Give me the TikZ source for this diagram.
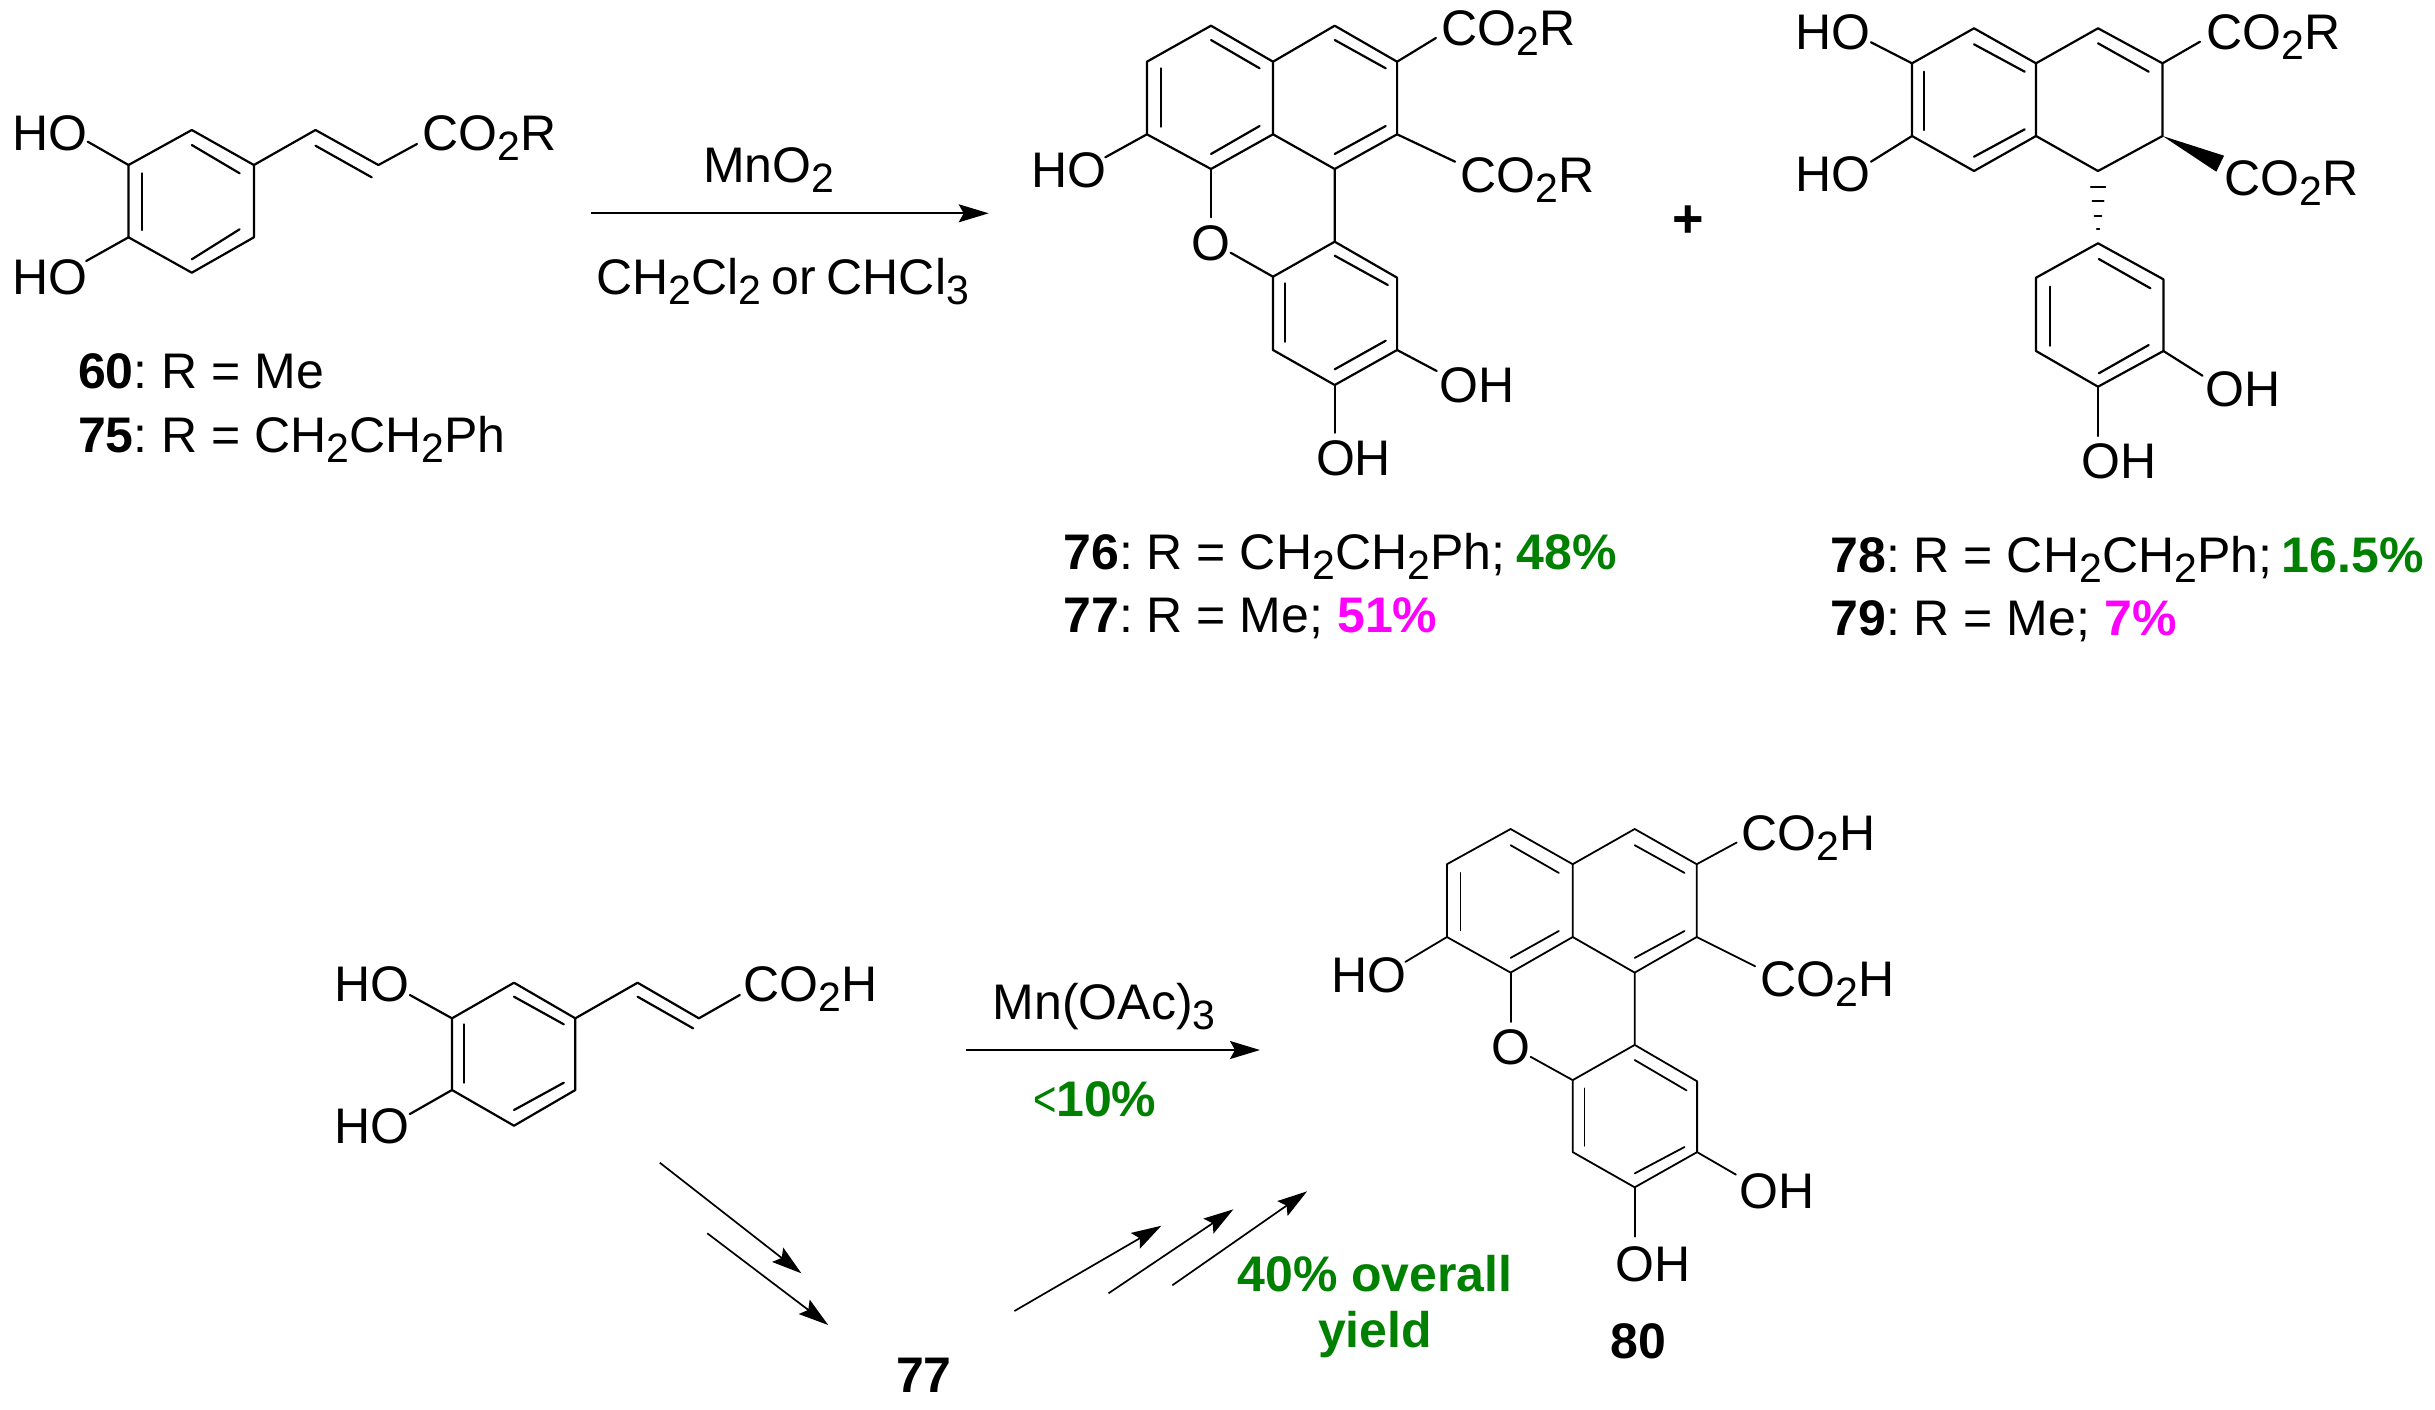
\documentclass[tikz,border=0pt]{standalone}
\usepackage{graphicx}
\usepackage{fontspec}
\setmainfont{Liberation Sans}
\usetikzlibrary{arrows.meta}
\definecolor{yieldgreen}{RGB}{0,128,0}
\definecolor{yieldpink}{RGB}{255,0,255}
\newcommand{\subs}[1]{\raisebox{-.2em}{\scalebox{.82}{#1}}}
\tikzset{
    bond/.style={line width=1.1pt, line cap=round, line join=round},
    thinbond/.style={line width=.9pt, line cap=round, line join=round},
    rxnarrow/.style={line width=.85pt, -{Stealth[length=15pt,width=9pt,inset=2.5pt]}},
    lbl/.style={anchor=base west, inner sep=0pt, outer sep=0pt, font=\fontsize{25}{29}\selectfont\frenchspacing},
}
\begin{document}
\begin{tikzpicture}[x=.5pt,y=-.5pt]
\useasboundingbox (0,0) rectangle (2435,1409);

% ester 60/75
\foreach \n/\x/\y in {a1/128.5/165, a2/191.8/130, a3/253.9/165, a4/253.9/237.3, a5/191.8/272.7, a6/128.5/237.3,
    av1/315.5/130, av2/378.4/165, ae1/417/144, ae2/87.8/141.7, ae3/86.2/261,
    ai1/191.8/145, ai2/239.6/173.3, ai3/141.6/173.3, ai4/141.6/230, ai5/191.8/259.3, ai6/239.6/229.3,
    ai7/315.5/145.7, ai8/371.7/177.3}
    \coordinate (\n) at (\x,\y);
\draw[bond] (a1) -- (a2) -- (a3) -- (a4) -- (a5) -- (a6) -- cycle;
\draw[bond] (a3) -- (av1) -- (av2) -- (ae1);
\draw[bond] (a1) -- (ae2);
\draw[bond] (a6) -- (ae3);
\draw[bond] (ai1) -- (ai2);
\draw[bond] (ai3) -- (ai4);
\draw[bond] (ai5) -- (ai6);
\draw[bond] (ai7) -- (ai8);
\node[lbl] (aho1) at (12,150) {HO};
\node[lbl] (aho2) at (12,294.3) {HO};
\node[lbl] (aco) at (422.5,150) {CO\subs{2}R};
\node[lbl] (cap60) at (78,388.3) {\textbf{60}: R = Me};
\node[lbl] (cap75) at (78,452.3) {\textbf{75}: R = CH\subs{2}CH\subs{2}Ph};

% first arrow
\coordinate (r1a) at (591,213.3);
\coordinate (r1b) at (988.7,213.3);
\draw[rxnarrow] (r1a) -- (r1b);
\node[lbl] (mno) at (703,182.3) {MnO\subs{2}};
\node[lbl] (solv) at (596.5,294) {CH\subs{2}Cl\subs{2}\kern-1.75pt{} or\kern-1.75pt{} CHCl\subs{3}};

% pentacycle 76/77
\foreach \n/\x/\y in {b1/1211/25.7, b2/1146.9/61.7, b3/1146.9/134.3, b4/1211/169, b5/1273/134.3, b6/1273/61.7,
    b7/1334.7/25.7, b8/1397.1/61.7, b9/1397.1/134.3, b10/1334.7/169, b11/1334.7/241.7, b12/1397.1/277.7,
    b13/1397.1/350, b14/1334.7/385, b15/1273/350, b16/1273/276.7,
    be1/1435.9/38, be2/1455.1/161.7, be3/1105.3/157.3, be4/1211/217.3, be5/1230.6/252.7, be6/1436.7/371, be7/1334.7/432.7,
    bi1/1211/40, bi2/1259.6/68.3, bi3/1161.2/68.3, bi4/1161.2/126.7, bi5/1211/154, bi6/1259.6/126,
    bi7/1334.7/40, bi8/1385.7/68.3, bi9/1334.7/154, bi10/1385.7/126, bi11/1334.7/255.7, bi12/1387.8/285,
    bi13/1284.9/283.3, bi14/1284.9/341.7, bi15/1334.7/369.3, bi16/1385.7/340.7}
    \coordinate (\n) at (\x,\y);
\draw[bond] (b1) -- (b2) -- (b3) -- (b4) -- (b5) -- (b6) -- cycle;
\draw[bond] (b6) -- (b7) -- (b8) -- (b9) -- (b10) -- (b5);
\draw[bond] (b10) -- (b11) -- (b12) -- (b13) -- (b14) -- (b15) -- (b16) -- (b11);
\draw[bond] (b8) -- (be1);
\draw[bond] (b9) -- (be2);
\draw[bond] (b3) -- (be3);
\draw[bond] (b4) -- (be4);
\draw[bond] (be5) -- (b16);
\draw[bond] (b13) -- (be6);
\draw[bond] (b14) -- (be7);
\foreach \i/\j in {1/2,3/4,5/6,7/8,9/10,11/12,13/14,15/16}
    \draw[bond] (bi\i) -- (bi\j);
\node[lbl] (bco1) at (1441.5,45) {CO\subs{2}R};
\node[lbl] (bco2) at (1460.8,192.3) {CO\subs{2}R};
\node[lbl] (bho1) at (1031.5,187.7) {HO};
\node[lbl,anchor=base] (box) at (1210.8,260) {O};
\node[lbl] (boh1) at (1439.5,402.7) {OH};
\node[lbl] (boh2) at (1316,475) {OH};
\node[lbl] (cap76) at (1063.5,569) {\textbf{76}: R = CH\subs{2}CH\subs{2}Ph;\kern-1pt{} \textcolor{yieldgreen}{\textbf{48\%}}};
\node[lbl] (cap77) at (1063.5,632) {\textbf{77}: R = Me; \textcolor{yieldpink}{\textbf{51\%}}};

\node[lbl,anchor=center,font=\fontsize{27}{27}\selectfont\bfseries] (plus) at (1688.3,222) {+};

% lignan 78/79
\foreach \n/\x/\y in {c1/1974/28.3, c2/1912/63.3, c3/1912/136, c4/1974/171, c5/2036/136, c6/2036/63.3,
    c7/2098/28.3, c8/2162.5/63.3, c9/2162.5/136, c10/2098/171, c11/2098/243.3, c12/2163.4/279.3,
    c13/2163.4/351, c14/2098/386.7, c15/2036/351, c16/2036/277.7,
    ce1/2200/41.7, ce2/1871/42.3, ce3/1871/161.7, ce4/2202.5/375.7, ce5/2098/436, cw1/2224/155.7, cw2/2216.3/171.7,
    ci1/1974/44.3, ci2/2024.7/71.7, ci3/1924/71.7, ci4/1924/130, ci5/1974/156.7, ci6/2024.7/129.3,
    ci7/2098/43.3, ci8/2148.7/71.7, ci9/2098.8/259, ci10/2150.4/288.3, ci11/2049.7/286.7, ci12/2049.7/345.7,
    ci13/2098.8/373.3, ci14/2148.7/345,
    hl1/2090.7/187.3, hr1/2105.3/187.3, hl2/2092.4/201.3, hr2/2103.6/201.3, hl3/2094.6/215.7, hr3/2101.4/215.7,
    hl4/2096.7/229.3, hr4/2099.3/229.3}
    \coordinate (\n) at (\x,\y);
\draw[bond] (c1) -- (c2) -- (c3) -- (c4) -- (c5) -- (c6) -- cycle;
\draw[bond] (c6) -- (c7) -- (c8) -- (c9) -- (c10) -- (c5);
\draw[bond] (c11) -- (c12) -- (c13) -- (c14) -- (c15) -- (c16) -- cycle;
\draw[bond] (c8) -- (ce1);
\draw[bond] (c2) -- (ce2);
\draw[bond] (c3) -- (ce3);
\draw[bond] (c13) -- (ce4);
\draw[bond] (c14) -- (ce5);
\fill (c9) -- (cw1) -- (cw2) -- cycle;
\foreach \i in {1,...,4}
    \draw[thinbond] (hl\i) -- (hr\i);
\foreach \i/\j in {1/2,3/4,5/6,7/8,9/10,11/12,13/14}
    \draw[bond] (ci\i) -- (ci\j);
\node[lbl] (cho1) at (1795.5,49.3) {HO};
\node[lbl] (cho2) at (1795.5,191.7) {HO};
\node[lbl] (cco1) at (2206.5,49.3) {CO\subs{2}R};
\node[lbl] (cco2) at (2224.5,195.7) {CO\subs{2}R};
\node[lbl] (coh1) at (2205.2,406.7) {OH};
\node[lbl] (coh2) at (2081.2,478.3) {OH};
\node[lbl] (cap78) at (1830.5,572.3) {\textbf{78}: R = CH\subs{2}CH\subs{2}Ph;\kern-2pt{} \textcolor{yieldgreen}{\textbf{16.5\%}}};
\node[lbl] (cap79) at (1830.5,635.7) {\textbf{79}: R = Me; \textcolor{yieldpink}{\textbf{7\%}}};

% caffeic acid
\foreach \n/\x/\y in {d1/452/1018.3, d2/514/982.7, d3/575.3/1018.3, d4/575.3/1090, d5/514/1125.7, d6/452/1090,
    dv1/637.6/982.7, dv2/698.9/1018.3, de1/739.8/995, de2/409.9/995, de3/409.9/1114,
    di1/514/996.7, di2/563.8/1024.3, di3/463.9/1024.3, di4/463.9/1082.7, di5/514/1110, di6/563.8/1082.7,
    di7/637.6/996.7, di8/693.1/1028.3}
    \coordinate (\n) at (\x,\y);
\draw[bond] (d1) -- (d2) -- (d3) -- (d4) -- (d5) -- (d6) -- cycle;
\draw[bond] (d3) -- (dv1) -- (dv2) -- (de1);
\draw[bond] (d1) -- (de2);
\draw[bond] (d6) -- (de3);
\foreach \i/\j in {1/2,3/4,5/6,7/8}
    \draw[bond] (di\i) -- (di\j);
\node[lbl] (dho1) at (334.5,1001) {HO};
\node[lbl] (dho2) at (334.5,1143.3) {HO};
\node[lbl] (dco) at (743.5,1001) {CO\subs{2}H};

% second arrow
\coordinate (r2a) at (966,1050);
\coordinate (r2b) at (1260,1050);
\draw[rxnarrow] (r2a) -- (r2b);
\node[lbl] (mnac) at (992.8,1019.3) {Mn(OAc)\subs{3}};
\node[lbl,text=yieldgreen] (lt10) at (1033,1116) {\scalebox{.8}[1]{<}\textbf{10\%}};

% stepwise arrows
\foreach \n/\x/\y in {s1a/659.8/1162.7, s1b/801.4/1273.3, s2a/707.3/1233.3, s2b/828.2/1325,
    s3a/1014.4/1311, s3b/1161.4/1225.7, s4a/1108.5/1293.3, s4b/1233.4/1209.3, s5a/1172.3/1285.3, s5b/1307.1/1191.3}
    \coordinate (\n) at (\x,\y);
\foreach \i in {1,...,5}
    \draw[rxnarrow] (s\i a) -- (s\i b);
\node[lbl] (cap77b) at (896,1392.3) {\textbf{77}};
\node[lbl,anchor=center,align=center,text=yieldgreen,font=\fontsize{25}{28.2}\selectfont\bfseries] (overall) at (1375,1306.5) {40\% overall\\yield};

% pentacycle 80
\foreach \n/\x/\y in {e1/1510.6/829, e2/1446.9/864.2, e3/1446.9/937, e4/1510.6/972.6, e5/1572.7/937, e6/1572.7/864.2,
    e7/1634.7/829, e8/1696.7/864.2, e9/1696.7/937, e10/1634.7/972.6, e11/1634.7/1044.9, e12/1697.1/1081.3,
    e13/1697.1/1152.1, e14/1634.7/1187.3, e15/1572.7/1152.1, e16/1572.7/1080.1,
    ee1/1736.7/842.5, ee2/1755.1/966.2, ee3/1405.3/961.9, ee4/1510.6/1022, ee5/1530.6/1056.8, ee6/1735.9/1174.6, ee7/1634.7/1236.7,
    ei1/1510.6/845.2, ei2/1558.8/872.9, ei3/1460.4/872.9, ei4/1460.4/930.3, ei5/1510.6/957.9, ei6/1558.8/931,
    ei7/1634.7/845.2, ei8/1684.5/872.9, ei9/1634.7/957.9, ei10/1684.5/931, ei11/1634.7/1060, ei12/1686.5/1090.4,
    ei13/1584.5/1088.4, ei14/1584.5/1145.8, ei15/1634.7/1173.4, ei16/1684.5/1147}
    \coordinate (\n) at (\x,\y);
\draw[thinbond] (e1) -- (e2) -- (e3) -- (e4) -- (e5) -- (e6) -- cycle;
\draw[thinbond] (e6) -- (e7) -- (e8) -- (e9) -- (e10) -- (e5);
\draw[thinbond] (e10) -- (e11) -- (e12) -- (e13) -- (e14) -- (e15) -- (e16) -- (e11);
\draw[thinbond] (e8) -- (ee1);
\draw[thinbond] (e9) -- (ee2);
\draw[thinbond] (e3) -- (ee3);
\draw[thinbond] (e4) -- (ee4);
\draw[thinbond] (ee5) -- (e16);
\draw[thinbond] (e13) -- (ee6);
\draw[thinbond] (e14) -- (ee7);
\foreach \i/\j in {1/2,3/4,5/6,7/8,9/10,11/12,13/14,15/16}
    \draw[thinbond] (ei\i) -- (ei\j);
\node[lbl] (eco1) at (1741.5,850.4) {CO\subs{2}H};
\node[lbl] (eco2) at (1760.8,996.7) {CO\subs{2}H};
\node[lbl] (eho1) at (1331.5,992.3) {HO};
\node[lbl,anchor=base] (eox) at (1510.6,1064.7) {O};
\node[lbl] (eoh1) at (1739.5,1208.5) {OH};
\node[lbl] (eoh2) at (1615.9,1281) {OH};
\node[lbl] (cap80) at (1610.7,1358) {\textbf{80}};
\end{tikzpicture}
\end{document}
